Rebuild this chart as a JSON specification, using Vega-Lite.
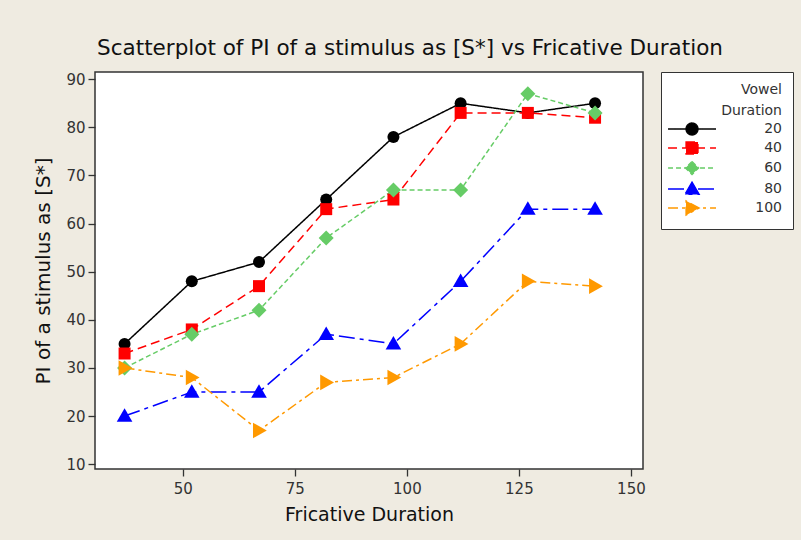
{
  "$schema": "https://vega.github.io/schema/vega-lite/v6.json",
  "autosize": "none",
  "width": 548,
  "height": 397,
  "padding": {"left": 95, "top": 72, "right": 158, "bottom": 71},
  "background": "#EFEBE1",
  "title": {
    "text": "Scatterplot of PI of a stimulus as [S*] vs Fricative Duration",
    "font": "DejaVu Sans",
    "fontSize": 21.5,
    "fontWeight": "normal",
    "color": "#111111",
    "anchor": "middle",
    "dx": 41,
    "offset": 12
  },
  "config": {
    "view": {"fill": "white", "stroke": "#333333", "strokeWidth": 1.5},
    "axis": {
      "grid": false,
      "domain": false,
      "ticks": true,
      "tickColor": "#333333",
      "tickSize": 7,
      "tickWidth": 1.3,
      "labelFont": "DejaVu Sans",
      "labelFontSize": 15,
      "labelColor": "#333333",
      "titleFont": "DejaVu Sans",
      "titleFontSize": 19,
      "titleFontWeight": "normal",
      "titleColor": "#111111"
    },
    "legend": {
      "labelFont": "DejaVu Sans",
      "titleFont": "DejaVu Sans"
    }
  },
  "data": {
    "values": [
      {"fd": 37, "pi": 35, "vd": 20}, {"fd": 52, "pi": 48, "vd": 20}, {"fd": 67, "pi": 52, "vd": 20}, {"fd": 82, "pi": 65, "vd": 20},
      {"fd": 97, "pi": 78, "vd": 20}, {"fd": 112, "pi": 85, "vd": 20}, {"fd": 127, "pi": 83, "vd": 20}, {"fd": 142, "pi": 85, "vd": 20},
      {"fd": 37, "pi": 33, "vd": 40}, {"fd": 52, "pi": 38, "vd": 40}, {"fd": 67, "pi": 47, "vd": 40}, {"fd": 82, "pi": 63, "vd": 40},
      {"fd": 97, "pi": 65, "vd": 40}, {"fd": 112, "pi": 83, "vd": 40}, {"fd": 127, "pi": 83, "vd": 40}, {"fd": 142, "pi": 82, "vd": 40},
      {"fd": 37, "pi": 30, "vd": 60}, {"fd": 52, "pi": 37, "vd": 60}, {"fd": 67, "pi": 42, "vd": 60}, {"fd": 82, "pi": 57, "vd": 60},
      {"fd": 97, "pi": 67, "vd": 60}, {"fd": 112, "pi": 67, "vd": 60}, {"fd": 127, "pi": 87, "vd": 60}, {"fd": 142, "pi": 83, "vd": 60},
      {"fd": 37, "pi": 20, "vd": 80}, {"fd": 52, "pi": 25, "vd": 80}, {"fd": 67, "pi": 25, "vd": 80}, {"fd": 82, "pi": 37, "vd": 80},
      {"fd": 97, "pi": 35, "vd": 80}, {"fd": 112, "pi": 48, "vd": 80}, {"fd": 127, "pi": 63, "vd": 80}, {"fd": 142, "pi": 63, "vd": 80},
      {"fd": 37, "pi": 30, "vd": 100}, {"fd": 52, "pi": 28, "vd": 100}, {"fd": 67, "pi": 17, "vd": 100}, {"fd": 82, "pi": 27, "vd": 100},
      {"fd": 97, "pi": 28, "vd": 100}, {"fd": 112, "pi": 35, "vd": 100}, {"fd": 127, "pi": 48, "vd": 100}, {"fd": 142, "pi": 47, "vd": 100}
    ]
  },
  "encoding": {
    "x": {
      "field": "fd", "type": "quantitative", "title": "Fricative Duration",
      "scale": {"domain": [30.4, 152.7], "nice": false, "zero": false},
      "axis": {"values": [50, 75, 100, 125, 150], "labelPadding": 5, "titlePadding": 9}
    },
    "y": {
      "field": "pi", "type": "quantitative", "title": "PI of a stimulus as [S*]",
      "scale": {"domain": [9, 91.5], "nice": false, "zero": false},
      "axis": {"values": [10, 20, 30, 40, 50, 60, 70, 80, 90], "labelPadding": 3, "titlePadding": 12, "titleFontSize": 20}
    },
    "color": {
      "field": "vd", "type": "nominal",
      "scale": {"domain": [20, 40, 60, 80, 100], "range": ["#000000", "#FF0000", "#66CC66", "#0000FF", "#FF9900"]},
      "legend": {
        "title": ["Vowel", "Duration"],
        "orient": "none",
        "legendX": 566,
        "legendY": 0,
        "fillColor": "white",
        "strokeColor": "#333333",
        "padding": 11,
        "titleAnchor": "end",
        "titleAlign": "right",
        "titleFontSize": 14,
        "titleFontWeight": "normal",
        "titleColor": "#333333",
        "titleLineHeight": 21,
        "titlePadding": 4,
        "labelFontSize": 14,
        "labelColor": "#333333",
        "labelAlign": "right",
        "labelOffset": 96,
        "symbolSize": 144,
        "rowPadding": 1,
        "encode": {
          "symbols": {
            "update": {
              "shape": {"signal": "datum.value == 20 ? 'M-1.83,0H6.17M1.17,0A1,1 0 1,1 3.17,0A1,1 0 1,1 1.17,0Z' : datum.value == 40 ? 'M-1.83,0H6.17M1.17,-1H3.17V1H1.17Z' : datum.value == 60 ? 'M-1.83,0H6.17M2.17,-1.1L3.27,0L2.17,1.1L1.07,0Z' : datum.value == 80 ? 'M-1.83,0H6.17M2.17,-1.15L3.37,0.9L0.97,0.9Z' : 'M-1.83,0H6.17M3.37,0L1.17,-1.2L1.17,1.2Z'"},
              "fill": {"signal": "scale('color', datum.value)"},
              "stroke": {"signal": "scale('color', datum.value)"},
              "strokeWidth": {"value": 1.3},
              "strokeDash": {"signal": "datum.value == 20 ? [1,0] : datum.value == 40 ? [9,5] : datum.value == 60 ? [5,3] : datum.value == 80 ? [16,5,4,5] : [10,4,3,4]"},
              "opacity": {"value": 1},
              "size": {"value": 144}
            }
          }
        }
      }
    }
  },
  "layer": [
    {
      "mark": {"type": "line", "strokeWidth": 1.5},
      "encoding": {
        "strokeDash": {
          "field": "vd", "type": "nominal",
          "scale": {"range": [[1, 0], [9, 5], [5, 3], [16, 5, 4, 5], [10, 4, 3, 4]]},
          "legend": null
        }
      }
    },
    {
      "mark": {"type": "point", "filled": true, "opacity": 1, "size": 144},
      "encoding": {
        "shape": {
          "field": "vd", "type": "nominal",
          "scale": {"range": ["circle", "square", "M0,-1.25L1.25,0L0,1.25L-1.25,0Z", "M0,-1.3L1.3,0.95L-1.3,0.95Z", "M1.3,0L-1,-1.3L-1,1.3Z"]},
          "legend": null
        }
      }
    }
  ]
}
